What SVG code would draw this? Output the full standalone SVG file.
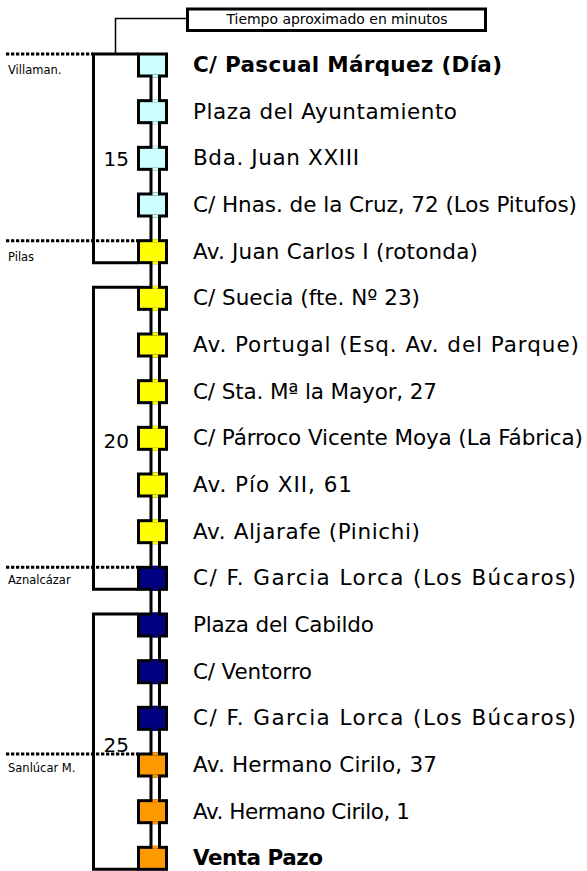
<svg xmlns="http://www.w3.org/2000/svg" width="587" height="871" viewBox="0 0 587 871">
<style>
.lbl{font-family:"DejaVu Sans",sans-serif;font-size:21.5px;fill:#000}
.b{font-weight:bold}
.num{font-family:"DejaVu Sans",sans-serif;font-size:20px;fill:#000;text-anchor:end}
.sm{font-family:"DejaVu Sans",sans-serif;font-size:11.5px;fill:#000}
.sq{stroke:#000;stroke-width:3}
.c1{fill:#CCFFFF}.c2{fill:#FFFF00}.c3{fill:#000080}.c4{fill:#FF9900}
.br{fill:none;stroke:#000;stroke-width:3}
.dot{fill:none;stroke:#000;stroke-width:3;stroke-dasharray:3.3 1.7}
</style>
<rect width="587" height="871" fill="#fff"/>
<g id="connectors">
<path class="br" d="M138,54 H93.5 V262.7 H138"/>
<path class="br" d="M138,287.3 H93.5 V589.3 H138"/>
<path class="br" d="M138,614 H93.5 V869.3 H138"/>
<path fill="none" stroke="#000" stroke-width="1.5" d="M187,18.5 H115.5 V54"/>
<line x1="151" y1="65" x2="151" y2="858" stroke="#000" stroke-width="3"/>
<line x1="159.5" y1="65" x2="159.5" y2="858" stroke="#000" stroke-width="3"/>
</g>
<g id="dotted">
<line class="dot" x1="6" y1="54" x2="93" y2="54"/>
<line class="dot" x1="6" y1="240.7" x2="138" y2="240.7"/>
<line class="dot" x1="6" y1="567.3" x2="138" y2="567.3"/>
<line class="dot" x1="6" y1="754" x2="138" y2="754"/>
<text class="sm" x="8" y="74">Villaman.</text>
<text class="sm" x="8" y="261">Pilas</text>
<text class="sm" x="8" y="584">Aznalcázar</text>
<text class="sm" x="8" y="772">Sanlúcar M.</text>
</g>
<g id="legend">
<rect x="187.5" y="9" width="298" height="21.5" fill="#fff" stroke="#000" stroke-width="3"/>
<text x="337" y="24" font-family="DejaVu Sans,sans-serif" font-size="14" text-anchor="middle" textLength="221">Tiempo aproximado en minutos</text>
</g>
<g id="times">
<text class="num" x="129" y="166">15</text>
<text class="num" x="129" y="448">20</text>
<text class="num" x="129" y="752">25</text>
</g>
<g id="stop0"><rect class="sq c1" x="138.5" y="54" width="28" height="22"/><rect class="c1" x="152.5" y="74.5" width="5.5" height="3"/><text class="lbl b" x="193" y="72" textLength="309">C/ Pascual Márquez (Día)</text></g>
<g id="stop1"><rect class="sq c1" x="138.5" y="100.67" width="28" height="22"/><rect class="c1" x="152.5" y="99.17" width="5.5" height="3"/><rect class="c1" x="152.5" y="121.17" width="5.5" height="3"/><text class="lbl" x="193" y="118.67" textLength="264">Plaza del Ayuntamiento</text></g>
<g id="stop2"><rect class="sq c1" x="138.5" y="147.33" width="28" height="22"/><rect class="c1" x="152.5" y="145.83" width="5.5" height="3"/><rect class="c1" x="152.5" y="167.83" width="5.5" height="3"/><text class="lbl" x="193" y="165.33" textLength="166">Bda. Juan XXIII</text></g>
<g id="stop3"><rect class="sq c1" x="138.5" y="194" width="28" height="22"/><rect class="c1" x="152.5" y="192.5" width="5.5" height="3"/><rect class="c1" x="152.5" y="214.5" width="5.5" height="3"/><text class="lbl" x="193" y="212" textLength="384">C/ Hnas. de la Cruz, 72 (Los Pitufos)</text></g>
<g id="stop4"><rect class="sq c2" x="138.5" y="240.67" width="28" height="22"/><rect class="c2" x="152.5" y="239.17" width="5.5" height="3"/><rect class="c2" x="152.5" y="261.17" width="5.5" height="3"/><text class="lbl" x="193" y="258.67" textLength="285">Av. Juan Carlos I (rotonda)</text></g>
<g id="stop5"><rect class="sq c2" x="138.5" y="287.33" width="28" height="22"/><rect class="c2" x="152.5" y="285.83" width="5.5" height="3"/><rect class="c2" x="152.5" y="307.83" width="5.5" height="3"/><text class="lbl" x="193" y="305.33" textLength="227">C/ Suecia (fte. Nº 23)</text></g>
<g id="stop6"><rect class="sq c2" x="138.5" y="334" width="28" height="22"/><rect class="c2" x="152.5" y="332.5" width="5.5" height="3"/><rect class="c2" x="152.5" y="354.5" width="5.5" height="3"/><text class="lbl" x="193" y="352" textLength="386">Av. Portugal (Esq. Av. del Parque)</text></g>
<g id="stop7"><rect class="sq c2" x="138.5" y="380.67" width="28" height="22"/><rect class="c2" x="152.5" y="379.17" width="5.5" height="3"/><rect class="c2" x="152.5" y="401.17" width="5.5" height="3"/><text class="lbl" x="193" y="398.67" textLength="244">C/ Sta. Mª la Mayor, 27</text></g>
<g id="stop8"><rect class="sq c2" x="138.5" y="427.33" width="28" height="22"/><rect class="c2" x="152.5" y="425.83" width="5.5" height="3"/><rect class="c2" x="152.5" y="447.83" width="5.5" height="3"/><text class="lbl" x="193" y="445.33" textLength="390">C/ Párroco Vicente Moya (La Fábrica)</text></g>
<g id="stop9"><rect class="sq c2" x="138.5" y="474" width="28" height="22"/><rect class="c2" x="152.5" y="472.5" width="5.5" height="3"/><rect class="c2" x="152.5" y="494.5" width="5.5" height="3"/><text class="lbl" x="193" y="492" textLength="159">Av. Pío XII, 61</text></g>
<g id="stop10"><rect class="sq c2" x="138.5" y="520.67" width="28" height="22"/><rect class="c2" x="152.5" y="519.17" width="5.5" height="3"/><rect class="c2" x="152.5" y="541.17" width="5.5" height="3"/><text class="lbl" x="193" y="538.67" textLength="227">Av. Aljarafe (Pinichi)</text></g>
<g id="stop11"><rect class="sq c3" x="138.5" y="567.33" width="28" height="22"/><rect class="c3" x="152.5" y="565.83" width="5.5" height="3"/><rect class="c3" x="152.5" y="587.83" width="5.5" height="3"/><text class="lbl" x="193" y="585.33" textLength="383">C/ F. Garcia Lorca (Los Búcaros)</text></g>
<g id="stop12"><rect class="sq c3" x="138.5" y="614" width="28" height="22"/><rect class="c3" x="152.5" y="612.5" width="5.5" height="3"/><rect class="c3" x="152.5" y="634.5" width="5.5" height="3"/><text class="lbl" x="193" y="632" textLength="181">Plaza del Cabildo</text></g>
<g id="stop13"><rect class="sq c3" x="138.5" y="660.67" width="28" height="22"/><rect class="c3" x="152.5" y="659.17" width="5.5" height="3"/><rect class="c3" x="152.5" y="681.17" width="5.5" height="3"/><text class="lbl" x="193" y="678.67" textLength="119">C/ Ventorro</text></g>
<g id="stop14"><rect class="sq c3" x="138.5" y="707.33" width="28" height="22"/><rect class="c3" x="152.5" y="705.83" width="5.5" height="3"/><rect class="c3" x="152.5" y="727.83" width="5.5" height="3"/><text class="lbl" x="193" y="725.33" textLength="383">C/ F. Garcia Lorca (Los Búcaros)</text></g>
<g id="stop15"><rect class="sq c4" x="138.5" y="754" width="28" height="22"/><rect class="c4" x="152.5" y="752.5" width="5.5" height="3"/><rect class="c4" x="152.5" y="774.5" width="5.5" height="3"/><text class="lbl" x="193" y="772" textLength="244">Av. Hermano Cirilo, 37</text></g>
<g id="stop16"><rect class="sq c4" x="138.5" y="800.67" width="28" height="22"/><rect class="c4" x="152.5" y="799.17" width="5.5" height="3"/><rect class="c4" x="152.5" y="821.17" width="5.5" height="3"/><text class="lbl" x="193" y="818.67" textLength="217">Av. Hermano Cirilo, 1</text></g>
<g id="stop17"><rect class="sq c4" x="138.5" y="847.33" width="28" height="22"/><rect class="c4" x="152.5" y="845.83" width="5.5" height="3"/><text class="lbl b" x="193" y="865.33" textLength="130">Venta Pazo</text></g>
</svg>
